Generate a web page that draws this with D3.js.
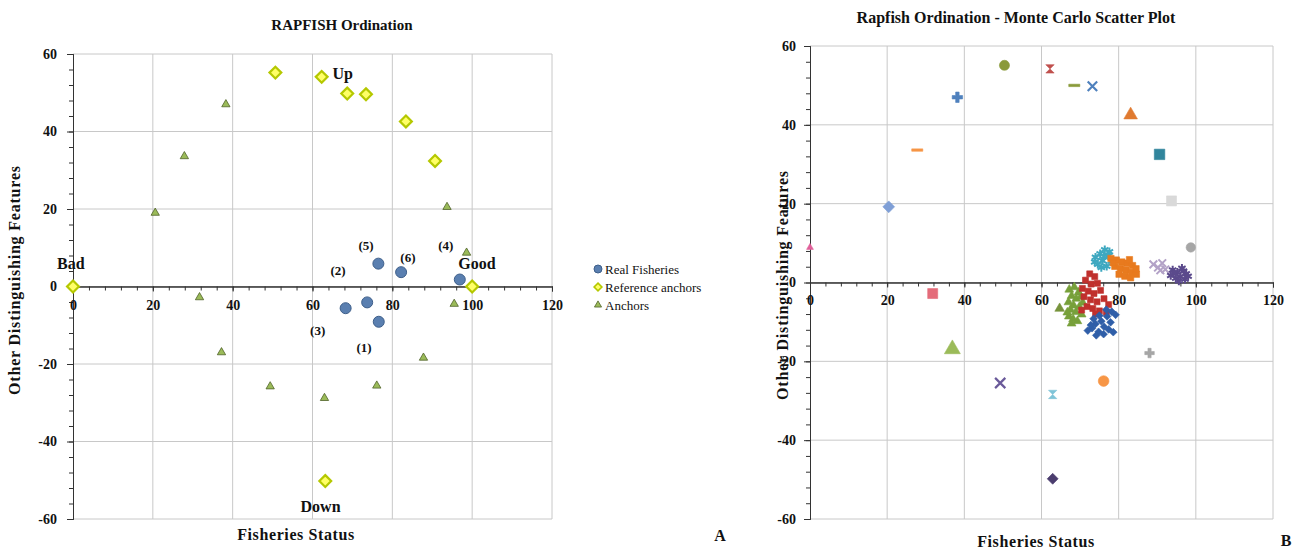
<!DOCTYPE html>
<html>
<head>
<meta charset="utf-8">
<script src="https://cdn.jsdelivr.net/npm/d3@7"></script>
<style>
  body { margin: 0; background: #fff; }
  svg { display: block; }
  text { font-family: "Liberation Serif", "Times New Roman", serif; fill: #111; }
</style>
</head>
<body>
<svg id="chart" width="1296" height="551"></svg>
<script>
// ---- data: panel A (ordination) ----
const fisheryX = [76.6, 68.3, 73.7, 96.9, 76.5, 82.2];
const fisheryY = [-9.1, -5.6, -4.1, 1.8, 5.9, 3.7];

const refX = [0, 100, 50.7, 62.3, 68.7, 73.4, 83.4, 90.7, 63.2];
const refY = [0, 0, 55.2, 54.1, 49.8, 49.6, 42.6, 32.4, -50.2];

const anchorX = [38.3, 27.9, 20.6, 93.7, 98.6, 31.7, 95.5, 37.2, 87.8, 49.4, 76.1, 63.0];
const anchorY = [47, 33.6, 19, 20.5, 8.7, -2.8, -4.5, -17, -18.4, -25.8, -25.6, -28.8];

// text labels on panel A (data coords of label)
const noteText = ["Up", "Bad", "Good", "Down", "(5)", "(6)", "(4)", "(2)", "(3)", "(1)"];
const noteX = [65, -4, 96.5, 57, 71.5, 82, 91.5, 64.5, 59.4, 71];
const noteY = [55, 6, 6, -56.8, 10.6, 7.5, 10.6, 4.1, -11.4, -15.7];

const legendNames = ["Real Fisheries", "Reference anchors", "Anchors"];

// ---- data: panel B (Monte Carlo) ----
const mcFishery1 = [[74,-10.5],[75.5,-9.8],[77,-8.6],[78.2,-7.4],[76.2,-11.2],[73.1,-11.6],[72,-12.2],[74.8,-12.5],[77.9,-10.1],[79.2,-8.2],[76.8,-6.9],[75,-8.4],[73.5,-9.2],[78.6,-12.6],[76.1,-13.1],[74.2,-13.4],[77.4,-11.9],[72.8,-10.8]];
const mcFishery2 = [[67.2,-1.8],[68.5,-1.2],[69.6,-2.5],[67.8,-3.4],[69,-4.1],[70.2,-3.6],[67,-5],[68.3,-5.8],[69.8,-6.2],[67.5,-6.9],[68.9,-7.5],[70.4,-8.1],[67.1,-8.6],[68.2,-9.3],[69.3,-9.8],[67.8,-10.4],[70.7,-5.1],[66.7,-7.6]];
const mcFishery3 = [[72.5,2.2],[73.8,1.5],[71.4,0.6],[72.9,-0.4],[74.5,-0.2],[70.6,-1.5],[72.1,-2.2],[73.6,-2.8],[75.3,-2],[71,-3.6],[72.7,-4.4],[74.4,-4.9],[76.2,-4.1],[77.4,-5.6],[71.8,-6.1],[73.3,-6.6],[75,-7.2],[76.8,-7.6],[70.4,-7],[74,-8]];
const mcFishery4 = [[94,3.2],[95.2,2.6],[96.4,3.6],[97.5,2.2],[93.5,1.8],[94.8,1.1],[96,1.5],[97.2,0.8],[95.6,0.4],[98,1.6],[94.3,2.4],[96.8,2.9]];
const mcFishery4b = [[89,4.6],[90.2,3.8],[91.3,4.9],[92.1,3.3],[90.8,3.1]];
const mcFishery5 = [[74,6.4],[75.2,7.3],[76.4,8.3],[77.3,6.8],[75.8,5.5],[74.6,4.6],[76.9,4.1],[78.2,5.4],[73.8,5.2],[75.5,3.8],[77.6,7.8],[76.2,6.6]];
const mcFishery6 = [[78,6.1],[79.4,5.7],[80.8,5.2],[82.2,4.9],[83.6,4.3],[79,4.1],[80.5,3.6],[81.9,3.2],[83.3,2.6],[84.6,2.1],[80.1,2.1],[81.6,1.6],[83.1,1.2],[84.5,3.5],[78.6,5],[82.8,5.8]];

// single anchor points in the MC plot
const mcAnchorX = [0, 20.4, 27.8, 38.2, 50.4, 62.2, 68.5, 73.2, 83.1, 90.6, 93.7, 98.7, 31.8, 36.9, 49.3, 62.9, 76.1, 88, 62.9, 64.7];
const mcAnchorY = [8.9, 19.2, 33.6, 47, 55.1, 54.2, 50, 49.8, 42.5, 32.5, 20.7, 8.9, -2.8, -16.9, -25.5, -28.4, -25, -17.9, -49.8, -6.6];

// ---- custom marker shapes ----
const rhombus = { draw(ctx, size) { const r = Math.sqrt(size / 2); ctx.moveTo(0, -r); ctx.lineTo(r, 0); ctx.lineTo(0, r); ctx.lineTo(-r, 0); ctx.closePath(); } };
const dash = { draw(ctx, size) { const r = Math.sqrt(size) / 1.4; ctx.moveTo(-r, -1.2); ctx.lineTo(r, -1.2); ctx.lineTo(r, 1.2); ctx.lineTo(-r, 1.2); ctx.closePath(); } };
const hourglass = { draw(ctx, size) { const r = Math.sqrt(size) / 2; ctx.moveTo(-r, -r); ctx.lineTo(r, -r); ctx.lineTo(-r, r); ctx.lineTo(r, r); ctx.closePath(); } };

const mcAnchorStyle = [
  { t: d3.symbolTriangle, c: "#e0609a", s: 20 },
  { t: rhombus, c: "#7f9fd6", s: 70 },
  { t: dash, c: "#f79646", s: 60 },
  { t: d3.symbolCross, c: "#4f81bd", s: 60 },
  { t: d3.symbolCircle, c: "#8a9a3a", s: 80 },
  { t: hourglass, c: "#c0504d", s: 70 },
  { t: dash, c: "#8a9a3a", s: 60 },
  { t: d3.symbolX, c: "#4f81bd", s: 60, stroke: true },
  { t: d3.symbolTriangle, c: "#e07a30", s: 80 },
  { t: d3.symbolSquare, c: "#31859c", s: 110 },
  { t: d3.symbolSquare, c: "#d9d9d9", s: 100 },
  { t: d3.symbolCircle, c: "#a6a6a6", s: 70 },
  { t: d3.symbolSquare, c: "#e46c7a", s: 100 },
  { t: d3.symbolTriangle, c: "#9bbb59", s: 110 },
  { t: d3.symbolX, c: "#6a5a9a", s: 70, stroke: true },
  { t: hourglass, c: "#7fc4d8", s: 70 },
  { t: d3.symbolCircle, c: "#f79646", s: 90 },
  { t: d3.symbolCross, c: "#a6a6a6", s: 50 },
  { t: rhombus, c: "#4b3d6e", s: 60 },
  { t: d3.symbolTriangle, c: "#77933c", s: 40 }
];

const svg = d3.select("#chart");
const plainFmt = d => String(d); // hyphen minus like the original

function drawFrame(g, x, y, opts) {
  // gridlines
  g.append("g").selectAll("line").data(d3.range(20, 121, 20)).join("line")
    .attr("x1", d => x(d)).attr("x2", d => x(d)).attr("y1", y(60)).attr("y2", y(-60))
    .attr("stroke", "#c8c8c8").attr("stroke-width", 1);
  g.append("g").selectAll("line").data(d3.range(-60, 61, 20)).join("line")
    .attr("x1", x(0)).attr("x2", x(120)).attr("y1", d => y(d)).attr("y2", d => y(d))
    .attr("stroke", "#c8c8c8").attr("stroke-width", 1);

  // minor ticks
  g.append("g").attr("transform", `translate(${x(0)},0)`)
    .call(d3.axisLeft(y).tickValues(d3.range(-60, 61, 4)).tickSize(4).tickFormat(""))
    .call(a => a.selectAll("line,path").attr("stroke", "#333"));
  g.append("g").attr("transform", `translate(0,${y(0)})`)
    .call(d3.axisBottom(x).tickValues(d3.range(0, 121, 4)).tickSize(4).tickFormat(""))
    .call(a => a.selectAll("line,path").attr("stroke", "#333"));

  // major axes with labels
  g.append("g").attr("transform", `translate(${x(0)},0)`)
    .call(d3.axisLeft(y).tickValues(d3.range(-60, 61, 20)).tickSize(6).tickPadding(opts.yPad).tickFormat(plainFmt))
    .call(a => a.select(".domain").attr("stroke", "#333"))
    .call(a => a.selectAll("line").attr("stroke", "#333"))
    .call(a => a.selectAll("text").attr("font-size", 14).attr("font-weight", "bold")
      .attr("font-family", "Liberation Serif").attr("fill", "#222"));
  g.append("g").attr("transform", `translate(0,${y(0)})`)
    .call(d3.axisBottom(x).tickValues(d3.range(0, 121, 20)).tickSize(5).tickPadding(opts.xPad).tickFormat(plainFmt))
    .call(a => a.select(".domain").attr("stroke", "#333"))
    .call(a => a.selectAll("line").attr("stroke", "#333"))
    .call(a => a.selectAll("text").attr("font-size", 14).attr("font-weight", "bold")
      .attr("font-family", "Liberation Serif").attr("fill", "#222"));
}

function axisTitles(g, t) {
  g.append("text").attr("x", t.xx).attr("y", t.xy).attr("text-anchor", "middle")
    .attr("font-size", 16).attr("letter-spacing", 0.6).attr("font-weight", "bold").text("Fisheries Status");
  g.append("text").attr("transform", `translate(${t.yx},${t.yy}) rotate(-90)`).attr("text-anchor", "middle")
    .attr("font-size", 16).attr("letter-spacing", 0.8).attr("font-weight", "bold").text("Other Distinguishing Features");
}

// ================= Panel A =================
const xA = d3.scaleLinear().domain([0, 120]).range([73, 552]);
const yA = d3.scaleLinear().domain([-60, 60]).range([519, 54]);
const gA = svg.append("g");
drawFrame(gA, xA, yA, { xPad: 9, yPad: 10 });

gA.append("text").attr("x", 342).attr("y", 30).attr("text-anchor", "middle")
  .attr("font-size", 15).attr("font-weight", "bold").text("RAPFISH Ordination");
axisTitles(gA, { xx: 296, xy: 540, yx: 20, yy: 280 });

gA.append("g").selectAll("path").data(anchorX).join("path")
  .attr("transform", (d, i) => `translate(${xA(d)},${yA(anchorY[i])})`)
  .attr("d", d3.symbol().type(d3.symbolTriangle).size(30))
  .attr("fill", "#9bbb59").attr("stroke", "#4f6228").attr("stroke-width", 0.8);

gA.append("g").selectAll("path").data(refX).join("path")
  .attr("transform", (d, i) => `translate(${xA(d)},${yA(refY[i])})`)
  .attr("d", d3.symbol().type(rhombus).size(70))
  .attr("fill", "#ffff66").attr("stroke", "#b5c800").attr("stroke-width", 2.2);

gA.append("g").selectAll("circle").data(fisheryX).join("circle")
  .attr("cx", d => xA(d)).attr("cy", (d, i) => yA(fisheryY[i])).attr("r", 5.5)
  .attr("fill", "#5a7fb0").attr("stroke", "#3e5f8a").attr("stroke-width", 1);

gA.append("g").selectAll("text").data(noteText).join("text")
  .attr("x", (d, i) => xA(noteX[i])).attr("y", (d, i) => yA(noteY[i]))
  .attr("dy", "0.35em")
  .attr("font-size", (d) => d.startsWith("(") ? 13 : 16)
  .attr("font-weight", "bold")
  .text(d => d);

// legend
const legend = gA.append("g");
const legendMarks = [
  g => g.append("circle").attr("r", 4).attr("fill", "#5a7fb0").attr("stroke", "#3e5f8a"),
  g => g.append("path").attr("d", d3.symbol().type(rhombus).size(30)).attr("fill", "#ffff66").attr("stroke", "#b5c800").attr("stroke-width", 1.6),
  g => g.append("path").attr("d", d3.symbol().type(d3.symbolTriangle).size(22)).attr("fill", "#9bbb59").attr("stroke", "#4f6228").attr("stroke-width", 0.8)
];
legendNames.forEach((name, i) => {
  const row = legend.append("g").attr("transform", `translate(598,${269 + i * 18})`);
  legendMarks[i](row);
  row.append("text").attr("x", 7).attr("dy", "0.35em").attr("font-size", 13).text(name);
});

svg.append("text").attr("x", 720).attr("y", 541).attr("text-anchor", "middle")
  .attr("font-size", 16).attr("font-weight", "bold").text("A");

// ================= Panel B =================
const xB = d3.scaleLinear().domain([0, 120]).range([810, 1273]);
const yB = d3.scaleLinear().domain([-60, 60]).range([519, 46]);
const gB = svg.append("g");
drawFrame(gB, xB, yB, { xPad: 8, yPad: 8 });

gB.append("text").attr("x", 1016).attr("y", 23).attr("text-anchor", "middle")
  .attr("font-size", 16).attr("font-weight", "bold").text("Rapfish Ordination - Monte Carlo Scatter Plot");
axisTitles(gB, { xx: 1036, xy: 547, yx: 788, yy: 285 });

const mcSeries = [
  { pts: mcFishery2, t: d3.symbolTriangle, c: "#77a03a", s: 34 },
  { pts: mcFishery3, t: d3.symbolSquare, c: "#c0302d", s: 36 },
  { pts: mcFishery1, t: rhombus, c: "#2f5ea8", s: 30 },
  { pts: mcFishery5, t: d3.symbolAsterisk, c: "#3ea8c0", s: 50, stroke: true },
  { pts: mcFishery6, t: d3.symbolSquare, c: "#e87a1e", s: 40 },
  { pts: mcFishery4b, t: d3.symbolX, c: "#b3a2c7", s: 40, stroke: true },
  { pts: mcFishery4, t: d3.symbolAsterisk, c: "#5b4a8c", s: 50, stroke: true }
];

mcSeries.forEach(sr => {
  gB.append("g").selectAll("path").data(sr.pts).join("path")
    .attr("transform", d => `translate(${xB(d[0])},${yB(d[1])})`)
    .attr("d", d3.symbol().type(sr.t).size(sr.s))
    .attr("fill", sr.stroke ? "none" : sr.c)
    .attr("stroke", sr.c).attr("stroke-width", sr.stroke ? 2 : 0.6);
});

gB.append("g").selectAll("path").data(mcAnchorX).join("path")
  .attr("transform", (d, i) => `translate(${xB(d)},${yB(mcAnchorY[i])})`)
  .attr("d", (d, i) => d3.symbol().type(mcAnchorStyle[i].t).size(mcAnchorStyle[i].s)())
  .attr("fill", (d, i) => mcAnchorStyle[i].stroke ? "none" : mcAnchorStyle[i].c)
  .attr("stroke", (d, i) => mcAnchorStyle[i].c)
  .attr("stroke-width", (d, i) => mcAnchorStyle[i].stroke ? 2.2 : 0.6);

svg.append("text").attr("x", 1286).attr("y", 546).attr("text-anchor", "middle")
  .attr("font-size", 16).attr("font-weight", "bold").text("B");
</script>
</body>
</html>
